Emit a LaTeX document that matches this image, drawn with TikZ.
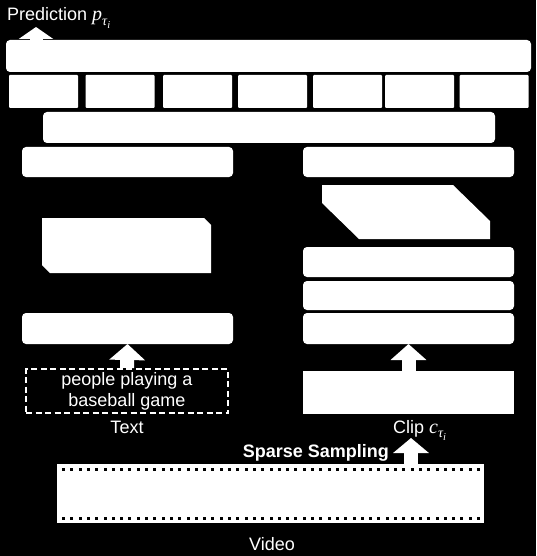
\documentclass[tikz,border=0pt]{standalone}
\usepackage{fontspec}
\setmainfont{Liberation Sans}
\newfontfamily\serifit{Liberation Serif}
\newcommand\myvar[1]{{\fontsize{20}{21}\selectfont\serifit\itshape #1}\raisebox{-4.5pt}{\fontsize{14}{14}\selectfont\serifit\itshape τ\raisebox{-3pt}{\fontsize{10.5}{10.5}\selectfont i}}}
\usetikzlibrary{arrows.meta,calc}
\begin{document}
\begin{tikzpicture}[x=1pt,y=-1pt,
  box/.style={fill=white,inner sep=0pt,outer sep=0pt,rounded corners=4pt},
  sbox/.style={fill=white,inner sep=0pt,outer sep=0pt,rounded corners=1pt,minimum width=69pt,minimum height=33pt},
  lbl/.style={text=white,inner sep=0pt,font=\fontsize{18}{21}\selectfont},
  blockarrow/.style={draw=white,line width=14pt,-{Triangle[width=35pt,length=16pt]}}
]
\fill[black] (0,0) rectangle (536,556);
% top layers
\node[box,minimum width=525pt,minimum height=32pt] (top) at (268.5,56) {};
\node[sbox] (m1) at (43.5,91.5) {};
\node[sbox] (m2) at (120,91.5) {};
\node[sbox] (m3) at (197.5,91.5) {};
\node[sbox] (m4) at (272.5,91.5) {};
\node[sbox] (m5) at (347.5,91.5) {};
\node[sbox] (m6) at (419.5,91.5) {};
\node[sbox] (m7) at (494,91.5) {};
\node[box,minimum width=452pt,minimum height=31pt] (bar) at (269,127.5) {};
% text branch
\node[box,minimum width=211pt,minimum height=30pt] (lenc1) at (127.5,162) {};
\fill[white] (42,218) -- (204,218) -- (211,225) -- (211,273) -- (50,273) -- (42,265) -- cycle;
\node[box,minimum width=211pt,minimum height=31pt] (lenc2) at (127.5,328.5) {};
\node[draw=white,line width=2pt,dash pattern=on 6pt off 3.5pt,inner sep=0pt,
  minimum width=202pt,minimum height=44pt,text=white,align=center,
  font=\fontsize{18}{21}\selectfont] (dash) at (127,391) {people playing a\\baseball game};
% video branch
\node[box,minimum width=211pt,minimum height=30pt] (venc1) at (408.5,162) {};
\fill[white] (322,185) -- (453,185) -- (490,221) -- (490,239) -- (359,239) -- (322,203) -- cycle;
\node[box,minimum width=211pt,minimum height=30pt] (venc2) at (408.5,262) {};
\node[box,minimum width=211pt,minimum height=29pt] (venc3) at (408.5,295.5) {};
\node[box,minimum width=211pt,minimum height=31pt] (venc4) at (408.5,328.5) {};
\node[fill=white,inner sep=0pt,outer sep=0pt,minimum width=211pt,minimum height=43pt] (clip) at (408.5,392.5) {};
% film strip
\node[fill=white,inner sep=0pt,outer sep=0pt,minimum width=427pt,minimum height=59pt] (film) at (270.5,493.5) {};
\foreach \i in {0,...,50}{
  \fill[black] ($(film.north west)+(5+8.3*\i,3.5)$) rectangle +(3,3);
  \fill[black] ($(film.south west)+(5+8.3*\i,-6.5)$) rectangle +(3,3);
}
% labels
\node[lbl,anchor=base west] (predl) at (7,21) {Prediction \myvar{p}};
\node[lbl,anchor=base] (textl) at (127,433) {Text};
\node[lbl,anchor=base west] (clipl) at (393,433) {Clip \myvar{c}};
\node[lbl,anchor=base east,font=\fontsize{18}{21}\selectfont\bfseries] (ssl) at (389,457) {Sparse Sampling};
\node[lbl,anchor=base] (videol) at (272,550) {Video};
% block arrows
\coordinate (predtip) at (36,27);
\coordinate (sstip) at (411,438);
\draw[draw=white,line width=13pt,-{Triangle[width=34pt,length=12pt]}] (predtip |- top.north) -- (predtip);
\draw[blockarrow] (dash.north) -- (lenc2.south);
\draw[blockarrow] (clip.north) -- (venc4.south);
\draw[blockarrow,-{Triangle[width=35pt,length=15pt]}] (sstip |- film.north) -- (sstip);
\end{tikzpicture}
\end{document}
